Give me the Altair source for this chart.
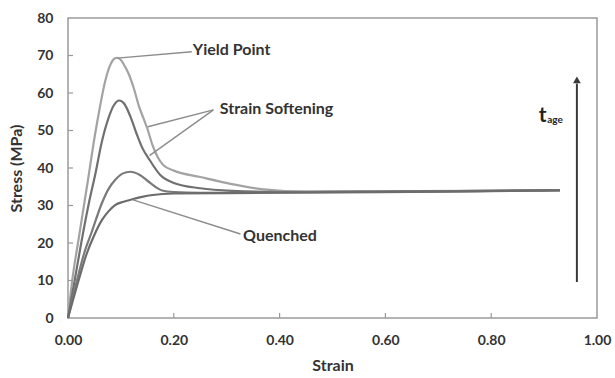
import altair as alt
import pandas as pd

# ---- curve data (strain, stress MPa) ----
yield_strain = [0, 0.008, 0.02, 0.038, 0.05, 0.06, 0.07, 0.08, 0.088, 0.093, 0.1, 0.108, 0.115, 0.125,
                0.134, 0.142, 0.15, 0.16, 0.17, 0.18, 0.2, 0.25, 0.31, 0.37, 0.45, 0.6, 0.75, 0.93]
yield_stress = [0, 10, 21, 37, 48, 56, 63, 67.5, 69.2, 69.4, 68.8, 67, 65, 61,
                56.5, 53.5, 50.5, 46, 42.8, 40.8, 39.3, 37.6, 35.7, 34.3, 33.7, 33.8, 33.9, 34.1]

aged2_strain = [0, 0.0126, 0.025, 0.04, 0.052, 0.064, 0.077, 0.087, 0.097, 0.107, 0.118, 0.13, 0.14,
                0.155, 0.174, 0.2, 0.25, 0.31, 0.4, 0.6, 0.8, 0.93]
aged2_stress = [0, 10, 20, 31, 38.6, 47, 53.5, 56.8, 58, 57, 53.7, 49, 45.5,
                42, 38.2, 36, 34.6, 33.9, 33.6, 33.7, 33.9, 34.1]

aged1_strain = [0, 0.017, 0.03, 0.045, 0.064, 0.077, 0.089, 0.103, 0.118, 0.135, 0.152, 0.165, 0.178,
                0.2, 0.25, 0.4, 0.6, 0.8, 0.93]
aged1_stress = [0, 10, 17, 23, 30.6, 34.5, 36.8, 38.5, 39, 38.2, 36.4, 35, 34,
                33.6, 33.4, 33.5, 33.7, 33.9, 34.1]

quench_strain = [0, 0.02, 0.035, 0.05, 0.064, 0.077, 0.089, 0.105, 0.12, 0.14, 0.16, 0.2, 0.3, 0.5, 0.7, 0.93]
quench_stress = [0, 10, 17, 22.2, 26.1, 28.5, 30.1, 31, 31.6, 32.3, 32.8, 33.2, 33.3, 33.5, 33.7, 34]

series_names = ["yield", "aged2", "aged1", "quenched"]
series_colors = ["#a3a3a3", "#707070", "#7a7a7a", "#6c6c6c"]

# annotation labels
label_texts = ["Yield Point", "Strain Softening", "Quenched"]
label_strain = [0.236, 0.287, 0.331]
label_stress = [71.5, 55.7, 21.8]

# leader lines: (id, strain, stress)
leader_id = ["y", "y", "s1", "s1", "s2", "s2", "q", "q"]
leader_strain = [0.093, 0.234, 0.151, 0.275, 0.154, 0.275, 0.123, 0.326]
leader_stress = [69.3, 71.0, 51.0, 55.5, 43.3, 55.5, 31.5, 22.4]

# ageing arrow
arrow_strain = [0.962]
arrow_low = [9.6]
arrow_high = [62.5]
arrow_tip = [63.5]

x_ticks = [0.2, 0.4, 0.6, 0.8]
y_ticks = [10, 20, 30, 40, 50, 60, 70]

FONT = "Lato"
TXT = "#333333"

rows = []
for name, xs_, ys_ in zip(series_names,
                          [yield_strain, aged2_strain, aged1_strain, quench_strain],
                          [yield_stress, aged2_stress, aged1_stress, quench_stress]):
    for i, (a, b) in enumerate(zip(xs_, ys_)):
        rows.append({"series": name, "strain": a, "stress": b, "order": i})
df = pd.DataFrame(rows)

xs = alt.Scale(domain=[0, 1], nice=False, zero=False)
ys = alt.Scale(domain=[0, 80], nice=False, zero=False)

X = alt.X("strain:Q", scale=xs, title="Strain",
          axis=alt.Axis(values=[0, 0.2, 0.4, 0.6, 0.8, 1.0], format=".2f", ticks=False,
                        domain=False, grid=False, labelFlush=False, labelPadding=15,
                        titlePadding=10))
Y = alt.Y("stress:Q", scale=ys, title="Stress (MPa)",
          axis=alt.Axis(values=[0, 10, 20, 30, 40, 50, 60, 70, 80], ticks=False,
                        domain=False, grid=False, labelFlush=False, labelPadding=15,
                        titleX=-44, titleY=150))

curves = alt.Chart(df).mark_line(strokeWidth=2.2, interpolate="monotone").encode(
    x=X, y=Y,
    color=alt.Color("series:N", scale=alt.Scale(domain=series_names, range=series_colors), legend=None),
    order="order:Q",
)

leaders = alt.Chart(pd.DataFrame({"id": leader_id, "strain": leader_strain, "stress": leader_stress})).mark_line(
    color="#8c8c8c", strokeWidth=1.4).encode(x=X, y=Y, detail="id:N")

labels = alt.Chart(pd.DataFrame({"t": label_texts, "strain": label_strain, "stress": label_stress})).mark_text(
    font=FONT, fontSize=16, fontWeight="bold", color=TXT, align="left", baseline="middle").encode(
    x=X, y=Y, text="t:N")

xtick_rules = alt.Chart(pd.DataFrame({"strain": x_ticks})).mark_rule(color="#999999", strokeWidth=1.2).encode(
    x=X, y=alt.value(300), y2=alt.value(295))
ytick_rules = alt.Chart(pd.DataFrame({"stress": y_ticks})).mark_rule(color="#999999", strokeWidth=1.2).encode(
    y=Y, x=alt.value(0), x2=alt.value(5))

arrow_df = pd.DataFrame({"strain": arrow_strain, "stress": arrow_low, "hi": arrow_high})
arrow_line = alt.Chart(arrow_df).mark_rule(color="#3a3a3a", strokeWidth=2).encode(x=X, y=Y, y2="hi:Q")
arrow_head = alt.Chart(pd.DataFrame({"strain": arrow_strain, "stress": arrow_tip})).mark_point(
    shape="triangle-up", filled=True, size=60, color="#3a3a3a", opacity=1).encode(x=X, y=Y)

tage_df = pd.DataFrame({"t": ["t"], "strain": [0.890], "stress": [52.3]})
age_df = pd.DataFrame({"t": ["age"], "strain": [0.906], "stress": [52.0]})
t_text = alt.Chart(tage_df).mark_text(font=FONT, fontSize=21, fontWeight="bold", color="#222222",
                                      align="left", baseline="alphabetic").encode(x=X, y=Y, text="t:N")
age_text = alt.Chart(age_df).mark_text(font=FONT, fontSize=10, fontWeight="bold", color="#222222",
                                       align="left", baseline="alphabetic").encode(x=X, y=Y, text="t:N")

chart = alt.layer(curves, leaders, labels, xtick_rules, ytick_rules, arrow_line, arrow_head, t_text, age_text
                  ).properties(
    width=529, height=300,
    autosize=alt.AutoSizeParams(type="none"),
    padding={"left": 68, "top": 18, "right": 18, "bottom": 60},
    background="white",
).configure_view(stroke="#9a9a9a", strokeWidth=1.5
).configure_axis(
    labelFont=FONT, labelFontSize=14, labelFontWeight="bold", labelColor=TXT,
    titleFont=FONT, titleFontSize=16, titleFontWeight="bold", titleColor=TXT,
)

chart.save("out.html", embed_options={"renderer": "svg", "actions": False})
